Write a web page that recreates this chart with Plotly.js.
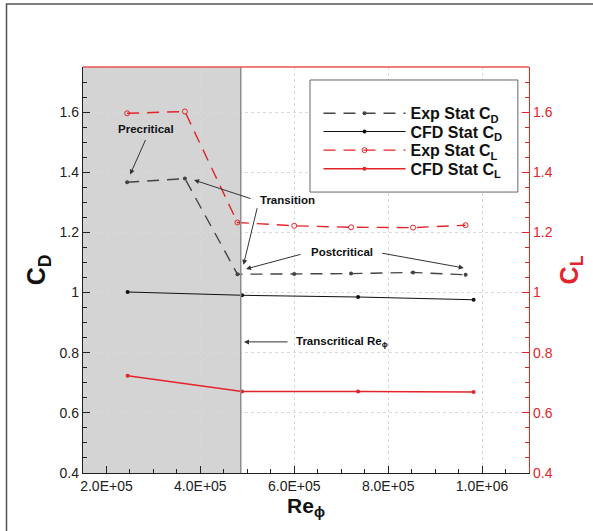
<!DOCTYPE html>
<html>
<head>
<meta charset="utf-8">
<script src="https://cdn.plot.ly/plotly-3.0.1.min.js"></script>
<style>
  html, body { margin: 0; padding: 0; background: #fff; }
  #chart { width: 593px; height: 531px; }
</style>
</head>
<body>
<div id="chart"></div>
<script>
// ---- data ----
const expRe   = [2.44e5, 3.67e5, 4.79e5, 6.00e5, 7.21e5, 8.53e5, 9.65e5];
const expCD   = [1.367, 1.379, 1.061, 1.062, 1.063, 1.067, 1.059];
const expCL   = [1.596, 1.602, 1.233, 1.222, 1.217, 1.216, 1.224];
const cfdRe   = [2.45e5, 4.89e5, 7.36e5, 9.82e5];
const cfdCD   = [1.002, 0.991, 0.985, 0.976];
const cfdCL   = [0.723, 0.671, 0.671, 0.669];
const xTickVals = [2e5, 4e5, 6e5, 8e5, 1e6];
const xTickText = ['2.0E+05', '4.0E+05', '6.0E+05', '8.0E+05', '1.0E+06'];
const xRange = [1.5e5, 1.1e6];
const yRange = [0.4, 1.75];
const transitionEnd = 4.86e5;   // edge of shaded sub/precritical region
const seriesNames = [
  'Exp Stat C<sub>D</sub>', 'CFD Stat C<sub>D</sub>',
  'Exp Stat C<sub>L</sub>', 'CFD Stat C<sub>L</sub>'
];

const FONT = 'Liberation Sans, Arial, Helvetica, sans-serif';
const RED = '#e3242b';

const traces = [
  { x: expRe, y: expCD, name: seriesNames[0], type: 'scatter', mode: 'lines+markers', yaxis: 'y', legend: 'legend',
    line: { color: '#444', width: 1.4, dash: '12px,8px' },
    marker: { symbol: 'circle', size: 4, color: '#444' } },
  { x: cfdRe, y: cfdCD, name: seriesNames[1], type: 'scatter', mode: 'lines+markers', yaxis: 'y', legend: 'legend2',
    line: { color: '#111', width: 1.1 },
    marker: { symbol: 'circle', size: 4, color: '#111' } },
  { x: expRe, y: expCL, name: seriesNames[2], type: 'scatter', mode: 'lines+markers', yaxis: 'y2', legend: 'legend3',
    line: { color: RED, width: 1.4, dash: '12px,8px' },
    marker: { symbol: 'circle-open', size: 5, color: RED, line: { width: 1 } } },
  { x: cfdRe, y: cfdCL, name: seriesNames[3], type: 'scatter', mode: 'lines+markers', yaxis: 'y2', legend: 'legend4',
    line: { color: RED, width: 1.5 },
    marker: { symbol: 'circle', size: 4, color: RED } }
];

function arrow(x, y, ax, ay) {
  return { x: x, y: y, xref: 'x', yref: 'y', ax: ax, ay: ay, text: '', showarrow: true,
           arrowhead: 2, arrowsize: 1, arrowwidth: 1, arrowcolor: '#333' };
}
function label(x, y, text, xanchor) {
  return { x: x, y: y, xref: 'x', yref: 'y', text: text, showarrow: false,
           xanchor: xanchor || 'center', yanchor: 'middle',
           font: { family: FONT, size: 11.5, color: '#111', weight: 'bold' } };
}
function legendAt(yPaper) {
  return {
    x: 0.528, y: yPaper, xanchor: 'left', yanchor: 'middle',
    bgcolor: 'rgba(0,0,0,0)', borderwidth: 0, itemwidth: 82,
    font: { family: FONT, size: 16, color: '#111', weight: 'bold' }
  };
}

const layout = {
  width: 593, height: 531,
  margin: { l: 83, r: 64, t: 67, b: 58 },
  paper_bgcolor: '#fff', plot_bgcolor: '#fff',
  font: { family: FONT, size: 14, color: '#222' },
  showlegend: true,
  legend: legendAt(0.886),
  legend2: legendAt(0.841),
  legend3: legendAt(0.795),
  legend4: legendAt(0.749),
  xaxis: {
    range: xRange, tickmode: 'array', tickvals: xTickVals, ticktext: xTickText,
    ticks: 'inside', ticklen: 7, tickwidth: 1, tickcolor: '#222',
    showline: true, linecolor: '#222', linewidth: 1.2, mirror: false, zeroline: false,
    showgrid: true, gridcolor: '#d9d9d9', griddash: 'dot', gridwidth: 1,
    minor: { dtick: 5e4, tick0: 0, ticks: 'inside', ticklen: 4, tickcolor: '#222', showgrid: false },
    tickfont: { family: FONT, size: 14, color: '#222' },
    title: { text: 'Re<sub>ϕ</sub>', standoff: 1, font: { family: FONT, size: 21, color: '#111', weight: 'bold' } }
  },
  yaxis: {
    range: yRange, dtick: 0.2, tick0: 0,
    ticks: 'inside', ticklen: 7, tickwidth: 1, tickcolor: '#222',
    showline: true, linecolor: '#222', linewidth: 1.2, zeroline: false,
    showgrid: true, gridcolor: '#d9d9d9', griddash: 'dot', gridwidth: 1,
    minor: { dtick: 0.05, tick0: 0, ticks: 'inside', ticklen: 4, tickcolor: '#222', showgrid: false },
    tickfont: { family: FONT, size: 14, color: '#222' },
    title: { text: 'C<sub>D</sub>', standoff: 6, font: { family: FONT, size: 25, color: '#111', weight: 'bold' } }
  },
  yaxis2: {
    overlaying: 'y', side: 'right', range: yRange, dtick: 0.2, tick0: 0,
    ticks: 'inside', ticklen: 7, tickwidth: 1, tickcolor: RED,
    showline: true, linecolor: RED, linewidth: 1.2, zeroline: false, showgrid: false,
    minor: { dtick: 0.05, tick0: 0, ticks: 'inside', ticklen: 4, tickcolor: RED, showgrid: false },
    tickfont: { family: FONT, size: 14, color: RED },
    title: { text: 'C<sub>L</sub>', standoff: 8, font: { family: FONT, size: 25, color: RED, weight: 'bold' } }
  },
  shapes: [
    // shaded precritical / transition region
    { type: 'rect', xref: 'x', yref: 'paper', x0: xRange[0], x1: transitionEnd, y0: 0, y1: 1,
      fillcolor: '#d4d4d4', line: { width: 0 }, layer: 'below' },
    { type: 'line', xref: 'x', yref: 'paper', x0: transitionEnd, x1: transitionEnd, y0: 0, y1: 1,
      line: { color: '#8c8c8c', width: 1.5 }, layer: 'above' },
    // red top frame line
    { type: 'line', xref: 'paper', yref: 'paper', x0: 0, x1: 1, y0: 1, y1: 1,
      line: { color: '#e85555', width: 1.5 }, layer: 'above' },
    // legend box
    { type: 'rect', xref: 'paper', yref: 'paper', x0: 0.509, x1: 0.975, y0: 0.692, y1: 0.968,
      fillcolor: 'rgba(255,255,255,1)', line: { color: '#666', width: 1 }, layer: 'above' },
    // outer figure frame
    { type: 'rect', xref: 'paper', yref: 'paper', x0: -0.1715, x1: 1.4, y0: -0.3, y1: 1.155,
      line: { color: '#555', width: 1.5 }, fillcolor: 'rgba(0,0,0,0)', layer: 'above' }
  ],
  annotations: [
    label(2.834e5, 1.5424, 'Precritical'),
    arrow(2.504e5, 1.3925, 16, -36),
    label(5.866e5, 1.307, 'Transition'),
    arrow(3.866e5, 1.374, 58, 19),
    arrow(4.919e5, 1.0928, 14, -58),
    label(7.02e5, 1.135, 'Postcritical'),
    arrow(4.972e5, 1.0784, 56, -15),
    arrow(9.61e5, 1.0818, -83, -15),
    label(5.994e5, 0.836, 'Transcritical Re<sub>ϕ</sub>', 'left'),
    arrow(4.93e5, 0.836, 45, 0)
  ]
};

Plotly.newPlot('chart', traces, layout, { displayModeBar: false, staticPlot: true });
</script>
</body>
</html>
